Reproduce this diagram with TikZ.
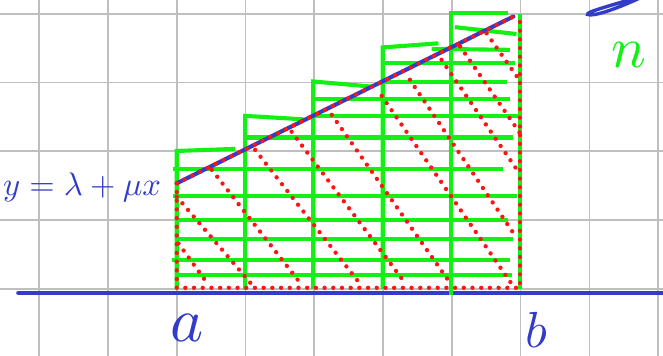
\documentclass[tikz,border=0pt]{standalone}
\definecolor{stylo}{RGB}{50,60,200}
\definecolor{fluo}{RGB}{20,240,20}
\definecolor{rouge}{RGB}{255,20,20}
\begin{document}
\begin{tikzpicture}[x=0.5cm, y=0.5cm,
    grille/.style={gray!50, line width=0.7pt},
    vert/.style={fluo, line width=1.7pt},
    bleu/.style={stylo, line width=1.7pt, line cap=round},
    pointille/.style={rouge, line width=1.8pt, line cap=round, dash pattern=on 0pt off 3.6pt}]
    \useasboundingbox (-5.14,-1.95) rectangle (14.14,8.40);

    % papier quadrille
    \draw[grille] (-5.14,-1.95) grid (14.14,8.40);

    % axe
    \draw[stylo, line width=2pt, line cap=round] (-4.6,-0.12) -- (14.3,-0.12);

    % rectangles (sommes superieures)
    \draw[vert] (0,0) -- (0,4.01) -- (1.70,4.07);
    \draw[vert] (1.99,-0.03) -- (1.99,5.03) -- (3.68,4.93);
    \draw[vert] (3.97,0) -- (3.97,6.03) -- (5.67,5.88);
    \draw[vert] (5.99,0) -- (5.99,7.02) -- (7.61,7.14);
    \draw[vert] (7.97,-0.17) -- (7.97,8.01) -- (9.64,8.01);
    \draw[vert] (9.98,0) -- (9.98,8.0);

    % hachures vertes
    \foreach \y/\xa/\xb in {0.41/0/9.74, 0.84/-0.15/9.69, 1.44/-0.05/9.79,
        2.0/-0.05/9.64, 2.70/-0.1/9.88, 3.48/-0.1/9.5, 4.40/1.94/9.79,
        5.03/3.97/10.03, 5.51/3.97/9.69, 6.01/5.96/9.59, 6.56/5.96/9.84}
        \draw[vert] (\xa,\y) -- (\xb,\y);
    \draw[vert] (7.41,6.98) -- (9.69,6.95);
    \draw[vert] (8.09,7.61) -- (9.88,7.41);

    % droite
    \draw[bleu] (0,3.07) -- (9.79,7.92);

    % trapeze en pointilles
    \draw[pointille] (0,3.07) -- (9.79,7.92);
    \draw[pointille] (0,3.07) -- (0,0.03) -- (9.98,0.03) -- (9.98,8.0);
    \foreach \xa/\ya/\xb/\yb in {0.05/1.32/0.92/0.12, 0/2.68/2.23/0.07,
        1.02/3.46/3.63/0.12, 2.28/4.04/5.35/0.12, 3.34/4.57/6.64/0.17,
        4.51/5.06/8.0/0.1, 5.96/5.61/9.79/0.07, 6.78/6.08/9.79/1.62,
        7.70/6.66/9.93/3.41, 8.24/7.05/9.98/4.53, 9.01/7.43/9.93/6.12}
        \draw[pointille] (\xa,\ya) -- (\xb,\yb);

    % textes
    \node[stylo, scale=1.35] (droite) at (-2.75,2.94) {$y=\lambda+\mu x$};
    \node[stylo, scale=2.6] (borneA) at (0.3,-1.13) {$a$};
    \node[stylo, scale=2.1] (borneB) at (10.47,-1.2) {$b$};
    \node[fluo, scale=2.4, anchor=west, inner sep=0pt] (nombre) at (12.62,6.80) {$n=$};

    % trait bleu en haut
    \draw[stylo, line width=1.4pt, line cap=round] (13.3,8.45) .. controls (12.5,8.2) and (11.9,8.05) .. (11.95,7.98)
        .. controls (12.1,7.9) and (12.8,8.15) .. (13.45,8.45);
\end{tikzpicture}
\end{document}
